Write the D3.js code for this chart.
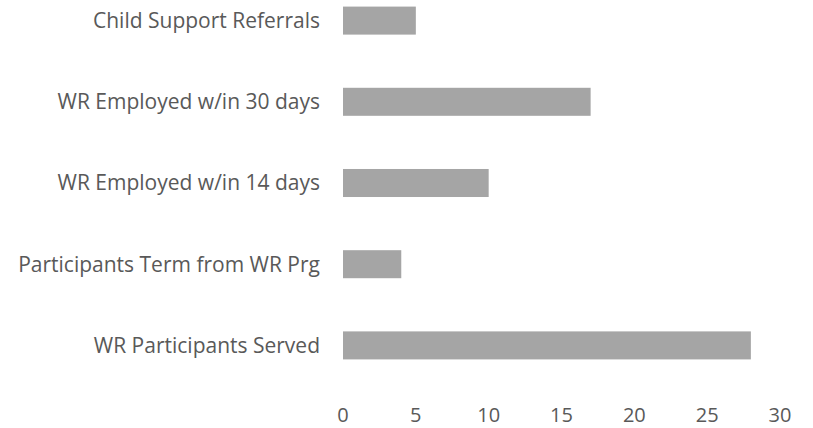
<!DOCTYPE html>
<html>
<head>
<meta charset="utf-8">
<script src="https://cdn.jsdelivr.net/npm/d3@7"></script>
<style>
  body { margin: 0; background: #fff; }
  text { font-family: "Open Sans", sans-serif; fill: #595959; }
</style>
</head>
<body>
<div id="chart"></div>
<script>
// data (top to bottom)
const categories = [
  "Child Support Referrals",
  "WR Employed w/in 30 days",
  "WR Employed w/in 14 days",
  "Participants Term from WR Prg",
  "WR Participants Served"
];
const values = [5, 17, 10, 4, 28];
const tickValues = [0, 5, 10, 15, 20, 25, 30];

const width = 813, height = 428;
const plot = { left: 343, right: 780, top: -20, bottom: 386 };

const svg = d3
  .select("#chart")
  .append("svg")
  .attr("width", width)
  .attr("height", height);

const x = d3.scaleLinear().domain([0, 30]).range([plot.left, plot.right]);

const y = d3
  .scaleBand()
  .domain(categories)
  .range([plot.top, plot.bottom])
  .paddingInner(0.655)
  .paddingOuter(0.3275);

// bars
svg
  .append("g")
  .selectAll("rect")
  .data(categories)
  .join("rect")
  .attr("x", x(0))
  .attr("y", (d) => y(d))
  .attr("width", (d, i) => x(values[i]) - x(0))
  .attr("height", y.bandwidth())
  .attr("fill", "#a5a5a5");

// category labels
svg
  .append("g")
  .selectAll("text")
  .data(categories)
  .join("text")
  .attr("x", plot.left - 23)
  .attr("y", (d) => y(d) + y.bandwidth() / 2)
  .attr("dy", "0.35em")
  .attr("text-anchor", "end")
  .style("font-size", "21px")
  .text((d) => d);

// value axis labels (baseline kept inside the 428px frame)
svg
  .append("g")
  .selectAll("text")
  .data(tickValues)
  .join("text")
  .attr("x", (d) => x(d))
  .attr("y", 422)
  .attr("text-anchor", "middle")
  .style("font-size", "20px")
  .text((d) => d);
</script>
</body>
</html>
